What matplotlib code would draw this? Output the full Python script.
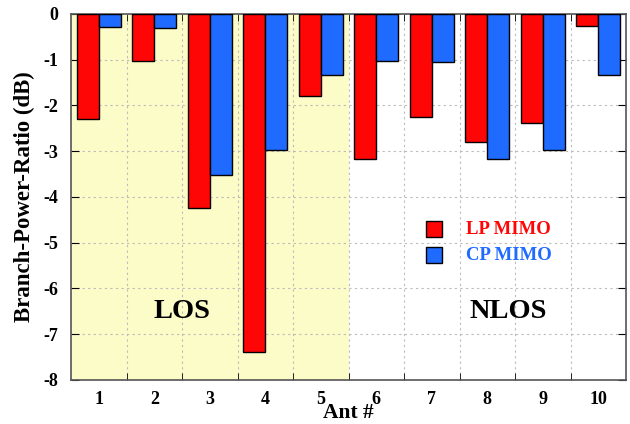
import matplotlib
matplotlib.use('Agg')
import matplotlib.pyplot as plt
import numpy as np
from matplotlib.patches import Rectangle

ants = np.arange(1, 11)
lp_mimo = [-2.30, -1.02, -4.23, -7.38, -1.80, -3.18, -2.26, -2.80, -2.38, -0.27]
cp_mimo = [-0.28, -0.30, -3.51, -2.98, -1.34, -1.03, -1.04, -3.16, -2.98, -1.34]

plt.rcParams['font.family'] = ['Liberation Serif', 'DejaVu Serif']
plt.rcParams['font.weight'] = 'bold'
plt.rcParams['axes.unicode_minus'] = False

fig = plt.figure(figsize=(6.3, 4.24), dpi=100)
ax = fig.add_axes([0.1127, 0.1038, 0.881, 0.8632])

ax.axvspan(0.5, 5.5, color='#fcfcc8', zorder=0, lw=0)
w = 0.4
ax.bar(ants - w / 2, lp_mimo, w, color='#ff0606', edgecolor='black', lw=1, zorder=3)
ax.bar(ants + w / 2, cp_mimo, w, color='#1f6aff', edgecolor='black', lw=1, zorder=3)

ax.set_xlim(0.5, 10.5)
ax.set_ylim(-8, 0)
ax.set_xticks(ants)
ax.set_xticks(np.arange(1.5, 10.5, 1), minor=True)
ax.tick_params(axis='x', which='major', length=0, labelsize=13, pad=8)
ax.tick_params(axis='x', which='minor', direction='in', length=5, top=True, bottom=True)
ax.set_yticks(np.arange(-8, 1, 1))
ax.tick_params(axis='y', which='major', direction='in', length=6, right=True, labelsize=13, pad=9)
for lab in ax.get_xticklabels() + ax.get_yticklabels():
    lab.set_fontweight('bold')

ax.grid(True, axis='y', which='major', ls=(0, (2, 3)), color='#bbbbbb', lw=0.8, zorder=1)
ax.grid(True, axis='x', which='minor', ls=(0, (2, 3)), color='#bbbbbb', lw=0.8, zorder=1)
ax.set_axisbelow(True)
for s in ax.spines.values():
    s.set_color('#555555')
    s.set_linewidth(1.2)

ax.set_xlabel('Ant #', fontsize=15.5, fontweight='bold', labelpad=-4)
ax.set_ylabel('Branch-Power-Ratio (dB)', fontsize=16.5, fontweight='bold', labelpad=6)

ax.text(2.5, -6.5, 'LOS', fontsize=20.5, fontweight='bold', ha='center', va='center', zorder=4)
ax.text(8.37, -6.5, 'NLOS', fontsize=20.5, fontweight='bold', ha='center', va='center', zorder=4)

# legend drawn by hand
for yc, col, lab in [(-4.70, '#ff0606', 'LP MIMO'), (-5.27, '#1f6aff', 'CP MIMO')]:
    ax.add_patch(Rectangle((7.04 - 0.15, yc - 0.17), 0.3, 0.34, facecolor=col,
                           edgecolor='black', lw=1, zorder=4))
    ax.text(7.62, yc, lab, color=col, fontsize=13.5, fontweight='bold', va='center', zorder=4)

fig.savefig('out.png', dpi=100)
